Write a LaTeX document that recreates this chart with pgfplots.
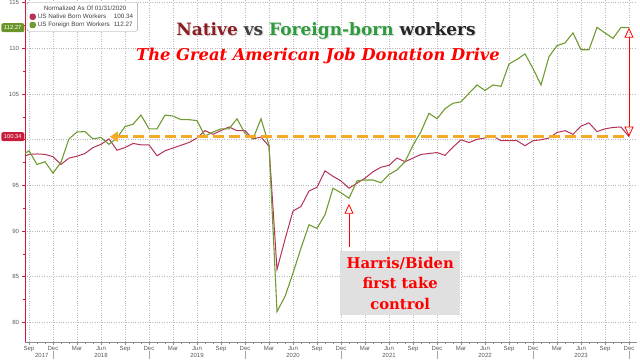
\documentclass[border=0pt]{standalone}
\usepackage{pgfplots}
\pgfplotsset{compat=1.18}
\usepackage{pgfplotstable}
\usepackage{fontspec}
\setmainfont{DejaVu Serif}
\newfontfamily\sans{Liberation Sans}
\newfontfamily\dserif{DejaVu Serif}
\usetikzlibrary{arrows.meta}
\definecolor{nat}{RGB}{180,50,85}
\definecolor{forg}{RGB}{112,155,50}
\definecolor{orng}{RGB}{242,170,40}
\definecolor{tagred}{RGB}{200,30,60}
\definecolor{taggreen}{RGB}{105,150,40}
\definecolor{gridc}{RGB}{185,185,185}
\definecolor{titred}{RGB}{140,30,35}
\definecolor{titgreen}{RGB}{46,155,62}

\pgfplotstableread{
m nat for
7 98.0 98.2
8 98.4 98.8
9 98.45 97.3
10 98.4 97.6
11 98.15 96.35
12 97.3 97.55
13 98.0 100.1
14 98.2 100.85
15 98.5 100.9
16 99.15 100.1
17 99.5 100.25
18 100.1 99.5
19 98.85 100.2
20 99.15 101.45
21 99.6 101.7
22 99.45 102.7
23 99.45 101.2
24 98.25 101.2
25 98.8 102.7
26 99.1 102.6
27 99.4 102.2
28 99.7 102.2
29 100.2 102.1
30 101.0 100.4
31 100.6 100.85
32 101.0 101.2
33 101.4 101.2
34 101.0 102.3
35 101.0 100.7
36 100.1 100.1
37 100.3 102.3
38 99.3 99.4
39 85.8 81.2
40 89.1 82.85
41 92.2 85.4
42 92.7 88.15
43 94.4 90.7
44 94.8 90.3
45 96.6 91.8
46 96.0 94.7
47 95.5 94.2
48 94.7 93.6
49 95.25 95.5
50 95.8 95.6
51 96.5 95.6
52 97.0 95.3
53 97.2 96.2
54 98.0 96.7
55 97.6 97.6
56 98.0 99.4
57 98.4 100.9
58 98.5 102.9
59 98.6 102.3
60 98.3 103.4
61 99.2 104.0
62 100.0 104.15
63 99.7 105.1
64 100.05 106.0
65 100.2 105.4
66 100.4 106.0
67 99.9 105.85
68 99.9 108.3
69 99.9 108.8
70 99.35 109.4
71 99.9 107.8
72 100.0 106.0
73 100.2 109.1
74 100.8 110.3
75 101.0 110.6
76 100.6 111.7
77 101.5 109.85
78 101.85 109.85
79 100.9 112.3
80 101.2 111.7
81 101.35 111.1
82 101.4 112.3
83 100.34 112.27
}\datatable

\begin{document}
\begin{tikzpicture}[x=1pt,y=1pt]
\begin{axis}[
  at={(25pt,17.3pt)}, anchor=south west,
  scale only axis, width=612pt, height=341.7pt,
  xmin=7.5, xmax=84, ymin=77.9, ymax=115.3,
  axis x line*=bottom, axis y line*=left,
  x axis line style={black!45, -},
  y axis line style={tagred, -, line width=0.8pt},
  xtick={8,11,...,83},
  xticklabels={Sep,Dec,Mar,Jun,Sep,Dec,Mar,Jun,Sep,Dec,Mar,Jun,Sep,Dec,Mar,Jun,Sep,Dec,Mar,Jun,Sep,Dec,Mar,Jun,Sep,Dec},
  minor x tick num=2,
  ytick={80,85,...,115}, minor y tick num=1,
  yticklabels={80,85,90,95,,105,110,115},
  tick align=outside,
  major tick length=3pt, minor tick length=2pt,
  x tick style={black!45},
  y tick style={tagred, line width=0.8pt},
  grid=major, major grid style={gridc, dotted, line width=0.7pt},
  tick label style={font=\sans\fontsize{6}{7}\selectfont, text=black!65},
  xticklabel style={yshift=1.5pt},
  yticklabel style={xshift=0.5pt},
  /pgf/number format/assume math mode=true,
  clip mode=individual,
  legend image code/.code={\fill (0pt,-2.6pt) rectangle (5.2pt,2.6pt);},
  legend style={at={(0.003,0.994)}, anchor=north west, draw=black!40,
    rounded corners=2pt, font=\sans\fontsize{6.3}{7}\selectfont, text=black!75,
    inner xsep=2.5pt, inner ysep=1.2pt, row sep=-1.8pt, legend cell align=left},
]
\addlegendimage{empty legend}
\addlegendentry{\hspace{6pt}Normalized As Of 01/31/2020}
\addplot[color=nat, line width=1pt] table[x=m, y=nat] {\datatable};
\addlegendentry{\makebox[76pt][l]{US Native Born Workers}100.34}
\addplot[color=forg, line width=1.1pt] table[x=m, y=for] {\datatable};
\addlegendentry{\makebox[76pt][l]{US Foreign Born Workers}112.27}

\addplot[orng, line width=3.6pt, dash pattern=on 11pt off 5pt,
  {Triangle[length=8pt,width=10pt]}-, forget plot]
  coordinates {(18.1,100.34) (83,100.34)};

\addplot[red, line width=0.8pt,
  {Triangle[open,length=10pt,width=9pt]}-{Triangle[open,length=10pt,width=9pt]}, forget plot]
  coordinates {(83,100.34) (83,112.27)};

\addplot[red, line width=0.8pt, -{Triangle[open,length=10pt,width=9pt]}, forget plot]
  coordinates {(48,88.3) (48,93.0)};

\node[fill=black!12, text=red, font=\dserif\bfseries\fontsize{14.8}{20.5}\selectfont,
  align=center, minimum width=120pt, minimum height=64pt, inner sep=1pt]
  at (axis cs:54.4,84.3) {Harris/Biden\\first take\\control};

\pgfplotsinvokeforeach{11,23,35,47,59,71,83}{
  \draw[black!35] ([yshift=-9pt]axis cs:#1,77.9) -- ([yshift=-17.3pt]axis cs:#1,77.9);
}
\node[font=\sans\fontsize{6}{7}\selectfont, text=black!65, yshift=-13.5pt] at (axis cs:9.6,77.9) {2017};
\node[font=\sans\fontsize{6}{7}\selectfont, text=black!65, yshift=-13.5pt] at (axis cs:17,77.9) {2018};
\node[font=\sans\fontsize{6}{7}\selectfont, text=black!65, yshift=-13.5pt] at (axis cs:29,77.9) {2019};
\node[font=\sans\fontsize{6}{7}\selectfont, text=black!65, yshift=-13.5pt] at (axis cs:41,77.9) {2020};
\node[font=\sans\fontsize{6}{7}\selectfont, text=black!65, yshift=-13.5pt] at (axis cs:53,77.9) {2021};
\node[font=\sans\fontsize{6}{7}\selectfont, text=black!65, yshift=-13.5pt] at (axis cs:65,77.9) {2022};
\node[font=\sans\fontsize{6}{7}\selectfont, text=black!65, yshift=-13.5pt] at (axis cs:77,77.9) {2023};
\coordinate (tagA) at (axis cs:7.5,112.27);
\coordinate (tagB) at (axis cs:7.5,100.34);
\end{axis}

\node[fill=taggreen, text=white, font=\sans\fontsize{5.8}{6}\selectfont, rounded corners=2pt,
  minimum width=23pt, minimum height=9pt, inner sep=0.5pt, anchor=east] at ([xshift=-0.5pt]tagA) {112.27};
\node[fill=tagred, text=white, font=\sans\fontsize{5.8}{6}\selectfont, rounded corners=2pt,
  minimum width=23pt, minimum height=9pt, inner sep=0.5pt, anchor=east] at ([xshift=-0.5pt]tagB) {100.34};

\node[font=\dserif\bfseries\fontsize{17}{20}\selectfont, text=black!25, opacity=0.5] at (327.2,326.8)
  {Native vs Foreign-born workers};
\node[font=\dserif\bfseries\fontsize{17}{20}\selectfont] at (326,328)
  {\textcolor{titred}{Native} \textcolor{black!75}{vs} \textcolor{titgreen}{Foreign-born} \textcolor{black!85}{workers}};
\node[font=\dserif\bfseries\itshape\fontsize{16.3}{18}\selectfont, text=red] at (318,303)
  {The Great American Job Donation Drive};

\pgfresetboundingbox
\path (0,0) rectangle (640,359);
\end{tikzpicture}
\end{document}
